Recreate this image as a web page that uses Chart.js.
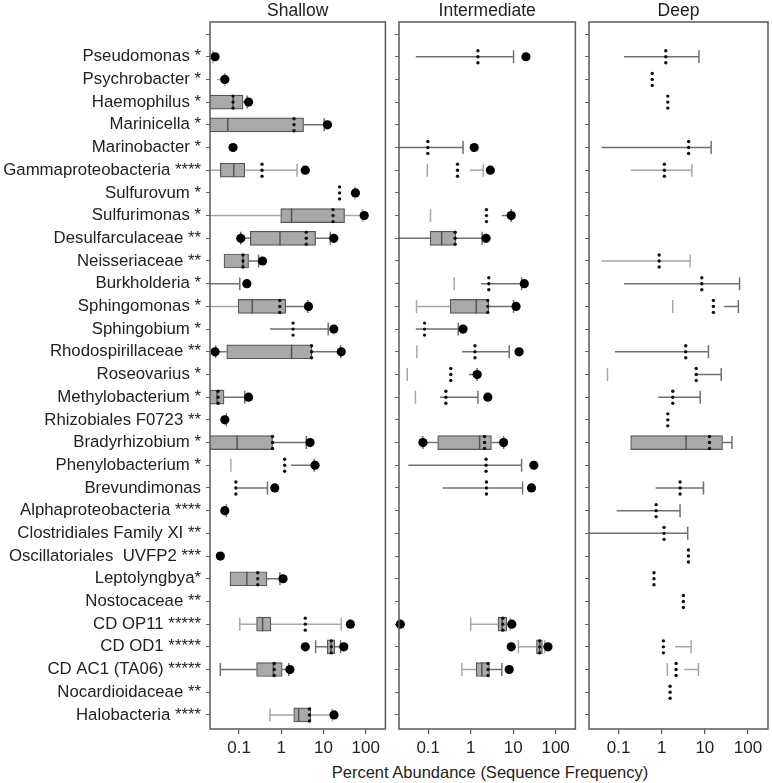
<!DOCTYPE html>
<html>
<head>
<meta charset="UTF-8">
<script src="https://cdn.jsdelivr.net/npm/chart.js"></script>
<style>
  body { margin: 0; background: #fff; }
  #wrap { position: relative; width: 772px; height: 783px; }
  canvas { position: absolute; top: 0; }
  #xtitle { position: absolute; left: 290px; width: 400px; top: 762px; text-align: center;
            font: 16.5px "Liberation Sans", Arial, sans-serif; color: #222; line-height: 20px; }
</style>
</head>
<body>
<div id="wrap">
  <canvas id="shallow" width="390" height="754" style="left:0"></canvas>
  <canvas id="intermediate" width="190" height="754" style="left:390px"></canvas>
  <canvas id="deep" width="192" height="754" style="left:580px"></canvas>
  <div id="xtitle">Percent Abundance (Sequence Frequency)</div>
</div>
<script>
// rows, top to bottom
const taxa = ["Pseudomonas *", "Psychrobacter *", "Haemophilus *", "Marinicella *", "Marinobacter *",
  "Gammaproteobacteria ****", "Sulfurovum *", "Sulfurimonas *", "Desulfarculaceae **", "Neisseriaceae **",
  "Burkholderia *", "Sphingomonas *", "Sphingobium *", "Rhodospirillaceae **", "Roseovarius *",
  "Methylobacterium *", "Rhizobiales F0723 **", "Bradyrhizobium *", "Phenylobacterium *", "Brevundimonas",
  "Alphaproteobacteria ****", "Clostridiales Family XI **", "Oscillatoriales  UVFP2 ***", "Leptolyngbya*",
  "Nostocaceae **", "CD OP11 *****", "CD OD1 *****", "CD AC1 (TA06) *****", "Nocardioidaceae **",
  "Halobacteria ****"];
const xTicks = [0.1, 1, 10, 100];

// [row, q1, q3, median]
const shallowBoxes = [[2, 0.012, 0.124, 0.072], [3, 0.012, 3.37, 0.054], [5, 0.036, 0.136, 0.075],
  [7, 0.97, 31.5, 1.75], [8, 0.184, 6.5, 0.93], [9, 0.044, 0.168, 0.124], [11, 0.095, 1.27, 0.205],
  [13, 0.051, 5.26, 1.75], [15, 0.012, 0.044, 0.03], [17, 0.012, 0.62, 0.09], [23, 0.061, 0.457, 0.153],
  [25, 0.26, 0.567, 0.36], [26, 12.2, 18.4, 15], [27, 0.26, 1.05, 0.65], [29, 1.97, 5.0, 2.58]];
// [row, from, to, caps]
const shallowWhiskers = [[2, 0.124, 0.155, "hi"],
  [3, 3.37, 10.4, "hi"], [8, 0.11, 0.184, "lo"], [8, 6.5, 14.5, "hi"], [9, 0.168, 0.29, "hi"],
  [10, 0.015, 0.104, "hi"], [11, 1.27, 4.25, "hi"], [12, 0.54, 12.9, "hi"], [13, 0.028, 0.051, "lo"],
  [13, 5.26, 25.4, "hi"], [15, 0.044, 0.136, "hi"], [16, 0.038, 0.05, "hi"], [17, 0.62, 3.9, "hi"],
  [18, 1.7, 6.0, "hi"], [19, 0.084, 0.47, "hi"], [20, 0.038, 0.05, "hi"], [23, 0.457, 0.93, "hi"],
  [26, 6.5, 12.2, "lo"], [26, 18.4, 25.4, "hi"], [27, 0.036, 0.26, "lo"], [27, 1.05, 1.5, "hi"]];
const shallowFaint = [[0, 0.02, 0.024, "hi"], [1, 0.03, 0.046, "hi"], [5, 0.015, 0.036, "none"],
  [5, 0.136, 2.36, "hi"], [7, 0.015, 0.97, "none"],
  [7, 31.5, 84, "hi"], [11, 0.015, 0.095, "none"], [25, 0.104, 0.26, "lo"], [25, 0.567, 26.3, "hi"],
  [29, 0.54, 1.97, "lo"], [29, 5.0, 16.2, "hi"]];
const shallowTicks = [[6, 55], [18, 0.064]];
const shallowMeans = [[2, 0.072], [3, 2.0], [5, 0.35], [6, 24], [7, 16.8], [8, 3.9], [9, 0.124],
  [11, 0.92], [12, 1.9], [13, 5.2], [15, 0.032], [17, 0.62], [18, 1.2], [19, 0.084], [23, 0.277],
  [25, 3.7], [26, 15.3], [27, 0.68], [29, 4.65]];
const shallowDots = [[0, 0.027], [1, 0.046], [2, 0.168], [3, 12.4], [4, 0.072], [5, 3.7], [6, 57],
  [7, 92], [8, 0.11], [8, 17.5], [9, 0.36], [10, 0.153], [11, 4.4], [12, 17.5], [13, 0.027], [13, 26.3],
  [15, 0.168], [16, 0.046], [17, 4.8], [18, 6.3], [19, 0.70], [20, 0.046], [22, 0.036], [23, 1.1],
  [25, 43.3], [26, 3.7], [26, 30.2], [27, 1.6], [29, 17.7]];

const midBoxes = [[8, 0.111, 0.45, 0.207], [11, 0.33, 2.67, 1.35], [17, 0.167, 3.08, 1.62],
  [25, 4.38, 7.1, 5.5], [26, 35.4, 48.8, 42], [27, 1.35, 2.77, 1.83]];
const midWhiskers = [[0, 0.051, 10.2, "hi"], [4, 0.015, 0.66, "hi"], [7, 5.4, 9.0, "hi"],
  [8, 0.015, 0.111, "none"], [8, 0.45, 1.86, "hi"], [10, 1.76, 15.8, "hi"], [11, 2.67, 10.2, "hi"],
  [12, 0.051, 0.51, "hi"], [13, 0.62, 8.07, "hi"], [14, 0.91, 1.42, "hi"], [15, 0.19, 1.48, "hi"],
  [17, 0.075, 0.167, "lo"], [17, 3.08, 5.95, "hi"], [18, 0.034, 15.8, "hi"], [19, 0.22, 16.7, "hi"],
  [27, 2.77, 5.4, "hi"]];
const midFaint = [[5, 0.95, 1.97, "hi"], [11, 0.053, 0.33, "lo"], [25, 1.0, 4.38, "lo"],
  [25, 7.1, 8.5, "hi"], [26, 13.3, 35.4, "lo"], [26, 48.8, 55.4, "hi"], [27, 0.62, 1.35, "lo"]];
const midTicks = [[5, 0.095], [7, 0.113], [10, 0.41], [13, 0.054], [14, 0.032], [15, 0.05]];
const midMeans = [[0, 1.48], [4, 0.098], [5, 0.49], [7, 2.35], [8, 0.43], [10, 2.67], [11, 2.53],
  [12, 0.082], [13, 1.26], [14, 0.34], [15, 0.26], [17, 2.12], [18, 2.3], [19, 2.35], [25, 5.7],
  [26, 42], [27, 2.56]];
const midDots = [[0, 20], [4, 1.21], [5, 2.9], [7, 9.0], [8, 2.3], [10, 18.3], [11, 11.7], [12, 0.66],
  [13, 13.8], [14, 1.42], [15, 2.53], [17, 0.075], [17, 5.95], [18, 30.7], [19, 27], [25, 0.022],
  [25, 9.3], [26, 9.0], [26, 66], [27, 8.07]];

const deepBoxes = [[17, 0.19, 25.7, 3.67]];
const deepWhiskers = [[0, 0.133, 7.3, "hi"], [4, 0.04, 14, "hi"], [10, 0.133, 64, "hi"],
  [11, 28, 60, "hi"], [13, 0.082, 12.1, "hi"], [14, 6.3, 24, "hi"], [15, 0.83, 7.8, "hi"],
  [17, 25.7, 42.5, "hi"], [19, 0.72, 9.3, "hi"], [20, 0.09, 2.66, "hi"], [21, 0.015, 4.0, "hi"]];
const deepFaint = [[5, 0.19, 5.0, "hi"], [9, 0.04, 4.55, "hi"], [26, 2.04, 4.8, "hi"], [27, 3.36, 7.1, "hi"]];
const deepTicks = [[11, 1.8], [14, 0.055], [27, 1.35]];
const deepMeans = [[0, 1.24], [1, 0.60], [2, 1.38], [4, 4.2], [5, 1.15], [9, 0.87], [10, 8.5],
  [11, 15.8], [13, 3.6], [14, 6.3], [15, 1.8], [16, 1.38], [17, 12.8], [19, 2.66], [20, 0.74],
  [21, 1.13], [22, 4.16], [23, 0.66], [24, 3.18], [26, 1.09], [27, 2.15], [28, 1.56]];
const deepDots = [];

Chart.defaults.font.family = '"Liberation Sans", Arial, sans-serif';
Chart.defaults.color = '#222';

function makePanel(id, title, p, names) {
  const frame = {
    id: 'frame',
    beforeDatasetsDraw(chart) {
      const { ctx, chartArea: a, scales: { x, y } } = chart;
      ctx.save();
      ctx.beginPath();
      ctx.rect(a.left, a.top, a.right - a.left, a.bottom - a.top);
      ctx.clip();
      ctx.lineWidth = 1.5;
      const cap = (v, r) => {
        const px = x.getPixelForValue(v), py = y.getPixelForValue(r);
        ctx.moveTo(px, py - 6.5);
        ctx.lineTo(px, py + 6.5);
      };
      const whisk = (list, color) => {
        ctx.strokeStyle = color;
        ctx.beginPath();
        list.forEach(([r, lo, hi, caps]) => {
          const py = y.getPixelForValue(r);
          ctx.moveTo(x.getPixelForValue(lo), py);
          ctx.lineTo(x.getPixelForValue(hi), py);
          if (caps === 'lo' || caps === 'both') cap(lo, r);
          if (caps === 'hi' || caps === 'both') cap(hi, r);
        });
        ctx.stroke();
      };
      whisk(p.whiskers, '#707070');
      whisk(p.faint, '#a8a8a8');
      ctx.strokeStyle = '#a8a8a8';
      ctx.beginPath();
      p.ticks.forEach(([r, v]) => cap(v, r));
      ctx.stroke();
      ctx.restore();
    },
    afterDatasetsDraw(chart) {
      const { ctx, scales: { x, y } } = chart;
      ctx.save();
      ctx.strokeStyle = '#555';
      ctx.lineWidth = 1.5;
      ctx.beginPath();
      p.boxes.forEach(([r, , , med]) => {
        const px = x.getPixelForValue(med), py = y.getPixelForValue(r);
        ctx.moveTo(px, py - 7);
        ctx.lineTo(px, py + 7);
      });
      ctx.stroke();
      ctx.fillStyle = '#111';
      p.means.forEach(([r, v]) => {
        const px = x.getPixelForValue(v), py = y.getPixelForValue(r);
        [-6, 0, 6].forEach(d => {
          ctx.beginPath();
          ctx.arc(px, py + d, 1.7, 0, Math.PI * 2);
          ctx.fill();
        });
      });
      ctx.restore();
    },
    afterDraw(chart) {
      const { ctx, chartArea: a } = chart;
      ctx.save();
      ctx.strokeStyle = '#5a5a5a';
      ctx.lineWidth = 1.5;
      ctx.strokeRect(a.left, a.top, a.right - a.left, a.bottom - a.top);
      ctx.fillStyle = '#222';
      ctx.font = '17.5px "Liberation Sans", Arial, sans-serif';
      ctx.textAlign = 'center';
      ctx.textBaseline = 'middle';
      ctx.fillText(title, (a.left + a.right) / 2, 11);
      ctx.restore();
    }
  };

  return new Chart(document.getElementById(id), {
    type: 'bar',
    data: {
      datasets: [
        {
          type: 'scatter',
          data: p.dots.map(([r, v]) => ({ x: v, y: r })),
          pointRadius: 4.6,
          backgroundColor: '#000',
          borderWidth: 0,
          clip: false
        },
        {
          type: 'bar',
          data: p.boxes.map(([r, q1, q3]) => ({ y: r, x: [q1, q3] })),
          barThickness: 14,
          backgroundColor: '#a9a9a9',
          borderColor: '#555',
          borderWidth: 1.2,
          borderSkipped: false
        }
      ]
    },
    options: {
      indexAxis: 'y',
      responsive: false,
      animation: false,
      devicePixelRatio: 1,
      events: [],
      layout: { padding: { top: 22, right: id === 'deep' ? 4 : 2, left: 0, bottom: 0 } },
      plugins: { legend: { display: false }, tooltip: { enabled: false } },
      scales: {
        x: {
          type: 'logarithmic',
          min: 0.0205,
          max: 292,
          afterBuildTicks: s => { s.ticks = xTicks.map(v => ({ value: v })); },
          afterFit: s => { s.height = 25; },
          border: { display: false },
          grid: { drawOnChartArea: false, tickLength: 5, color: '#555', lineWidth: 1.2 },
          ticks: { autoSkip: false, maxRotation: 0, padding: 4, font: { size: 17 }, callback: v => String(v) }
        },
        y: {
          type: 'linear',
          reverse: true,
          offset: false,
          min: -1.53,
          max: 29.62,
          afterBuildTicks: s => { s.ticks = Array.from({ length: taxa.length + 1 }, (_, i) => ({ value: i - 1 })); },
          afterFit: s => { s.width = names ? 210 : 9; },
          border: { display: false },
          grid: { drawOnChartArea: false, offset: false, tickLength: 4, color: '#666', lineWidth: 1 },
          ticks: { autoSkip: false, padding: 5, font: { size: 16.8 },
                   callback: v => (names && taxa[v]) ? taxa[v] : '' }
        }
      }
    },
    plugins: [frame]
  });
}

makePanel('shallow', 'Shallow', { boxes: shallowBoxes, whiskers: shallowWhiskers, faint: shallowFaint,
  ticks: shallowTicks, means: shallowMeans, dots: shallowDots }, true);
makePanel('intermediate', 'Intermediate', { boxes: midBoxes, whiskers: midWhiskers, faint: midFaint,
  ticks: midTicks, means: midMeans, dots: midDots }, false);
makePanel('deep', 'Deep', { boxes: deepBoxes, whiskers: deepWhiskers, faint: deepFaint,
  ticks: deepTicks, means: deepMeans, dots: deepDots }, false);
</script>
</body>
</html>
